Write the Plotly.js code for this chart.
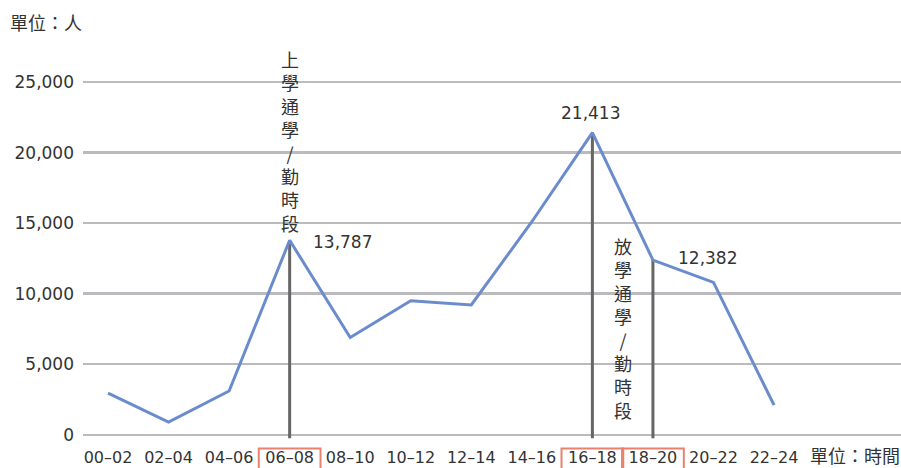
<!DOCTYPE html>
<html>
<head>
<meta charset="utf-8">
<script src="https://cdn.plot.ly/plotly-3.0.1.min.js"></script>
<style>html,body{margin:0;padding:0;background:#fff;}#chart{width:901px;height:468px;}</style>
</head>
<body>
<div id="chart"></div>
<script>
// ---- data ----
const categories = ['00–02','02–04','04–06','06–08','08–10','10–12','12–14','14–16','16–18','18–20','20–22','22–24'];
const passengers = [2950, 900, 3100, 13787, 6900, 9500, 9200, 15100, 21413, 12382, 10800, 2100];
const peakCategories = ['06–08', '16–18', '18–20'];
const labelledCategories = ['06–08', '16–18', '18–20'];
const yTickValues = [0, 5000, 10000, 15000, 20000, 25000];
const yTickLabels = ['0', '5,000', '10,000', '15,000', '20,000', '25,000'];
const morningText = ['上','學','通','學','/','勤','時','段'];
const eveningText = ['放','學','通','學','/','勤','時','段'];
const yUnitText = '單位：人';
const xUnitText = '單位：時間';

const valueOf = c => passengers[categories.indexOf(c)];
const fmt = v => v.toLocaleString('en-US');

const cjk = '"Noto Sans CJK TC", "Noto Sans CJK SC", sans-serif';
const latin = '"DejaVu Sans", sans-serif';
const textColor = '#333333';

const trace = {
  x: categories,
  y: passengers,
  type: 'scatter',
  mode: 'lines',
  line: {color: '#6b8ccc', width: 3},
  hoverinfo: 'skip',
  cliponaxis: false
};

const shapes = [];
// drop lines from peak points
peakCategories.forEach(c => {
  shapes.push({
    type: 'line', xref: 'x', yref: 'y', layer: 'between',
    x0: c, x1: c, y0: -250, y1: valueOf(c),
    line: {color: '#666666', width: 3}
  });
});
// red boxes around highlighted tick labels
peakCategories.forEach(c => {
  const i = categories.indexOf(c);
  shapes.push({
    type: 'rect', xref: 'x', yref: 'paper', layer: 'above',
    x0: i - 0.51, x1: i + 0.51, y0: -0.026, y1: -0.09,
    line: {color: '#e8826f', width: 2}, fillcolor: 'rgba(0,0,0,0)'
  });
});

const labelOffsets = {
  '06–08': {xanchor: 'left', xshift: 21, yshift: -2},
  '16–18': {xanchor: 'center', xshift: -2, yshift: 20},
  '18–20': {xanchor: 'left', xshift: 23, yshift: 2}
};

const annotations = [];
labelledCategories.forEach(c => {
  const o = labelOffsets[c];
  annotations.push({
    x: c, y: valueOf(c), xref: 'x', yref: 'y',
    text: fmt(valueOf(c)), showarrow: false,
    xanchor: o.xanchor, yanchor: 'middle', xshift: o.xshift, yshift: o.yshift,
    font: {family: latin, size: 17, color: textColor}
  });
});
annotations.push({
  x: '06–08', y: valueOf('06–08'), xref: 'x', yref: 'y',
  text: morningText.join('<br>'), showarrow: false,
  xanchor: 'center', yanchor: 'bottom', yshift: 2,
  font: {family: cjk, size: 18, color: textColor}
});
annotations.push({
  x: categories.indexOf('16–18') + 0.5, y: 0, xref: 'x', yref: 'y',
  text: eveningText.join('<br>'), showarrow: false,
  xanchor: 'center', yanchor: 'bottom', yshift: 10,
  font: {family: cjk, size: 18, color: textColor}
});
annotations.push({
  x: -0.0917, y: 1.1455, xref: 'paper', yref: 'paper',
  text: yUnitText, showarrow: false, xanchor: 'left', yanchor: 'middle',
  font: {family: cjk, size: 18, color: textColor}
});
annotations.push({
  x: 0.886, y: -0.045, xref: 'paper', yref: 'paper',
  text: xUnitText, showarrow: false, xanchor: 'left', yanchor: 'middle',
  font: {family: cjk, size: 18, color: textColor}
});

const layout = {
  width: 901, height: 468,
  margin: {l: 83, r: 0, t: 74.95, b: 29.27, pad: 0},
  paper_bgcolor: '#ffffff', plot_bgcolor: '#ffffff',
  showlegend: false,
  hovermode: false,
  xaxis: {
    type: 'category',
    range: [-0.413, 13.097],
    showgrid: false, zeroline: false, showline: false,
    ticks: '',
    tickfont: {family: latin, size: 16, color: textColor},
    ticklabelstandoff: 7,
    fixedrange: true
  },
  yaxis: {
    range: [-300, 25500],
    tickmode: 'array', tickvals: yTickValues, ticktext: yTickLabels,
    showgrid: true, gridcolor: '#bbbbbf', gridwidth: 2.5,
    zeroline: false, showline: false, ticks: '',
    tickfont: {family: latin, size: 17, color: textColor},
    ticklabelstandoff: 8,
    fixedrange: true
  },
  shapes: shapes,
  annotations: annotations
};

Plotly.newPlot('chart', [trace], layout, {displayModeBar: false, staticPlot: true});
</script>
</body>
</html>
